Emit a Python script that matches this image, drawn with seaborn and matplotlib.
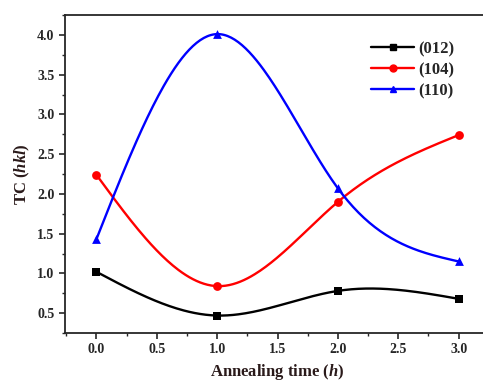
import numpy as np
import pandas as pd
import seaborn as sns
import matplotlib.pyplot as plt
from matplotlib.ticker import MultipleLocator

sns.set_style("ticks")
plt.rcParams['font.family'] = ['Liberation Serif', 'DejaVu Serif']
plt.rcParams['font.weight'] = 'bold'
plt.rcParams['mathtext.fontset'] = 'custom'
plt.rcParams['mathtext.it'] = 'Liberation Serif:italic:bold'
plt.rcParams['mathtext.rm'] = 'Liberation Serif:bold'

# data
time_h = [0.0, 1.0, 2.0, 3.0]
tc_012 = [1.02, 0.47, 0.78, 0.68]
tc_104 = [2.24, 0.84, 1.90, 2.74]
tc_110 = [1.43, 4.01, 2.07, 1.15]

series = {"(012)": tc_012, "(104)": tc_104, "(110)": tc_110}
colors = {"(012)": "black", "(104)": "red", "(110)": "blue"}
markers = {"(012)": "s", "(104)": "o", "(110)": "^"}


def natural_spline(x, y, n=200):
    # natural cubic spline through the points, for the smooth line only
    x = np.asarray(x, float)
    y = np.asarray(y, float)
    k = len(x)
    h = np.diff(x)
    A = np.zeros((k, k))
    b = np.zeros(k)
    A[0, 0] = A[-1, -1] = 1
    for i in range(1, k - 1):
        A[i, i - 1] = h[i - 1]
        A[i, i] = 2 * (h[i - 1] + h[i])
        A[i, i + 1] = h[i]
        b[i] = 6 * ((y[i + 1] - y[i]) / h[i] - (y[i] - y[i - 1]) / h[i - 1])
    M = np.linalg.solve(A, b)
    xs = np.linspace(x[0], x[-1], n)
    idx = np.clip(np.searchsorted(x, xs) - 1, 0, k - 2)
    x0, x1 = x[idx], x[idx + 1]
    hh = x1 - x0
    t0, t1 = x1 - xs, xs - x0
    ys = (M[idx] * t0**3 + M[idx + 1] * t1**3) / (6 * hh) \
        + (y[idx] / hh - M[idx] * hh / 6) * t0 \
        + (y[idx + 1] / hh - M[idx + 1] * hh / 6) * t1
    return xs, ys


fig = plt.figure(figsize=(4.83, 3.85), dpi=100)
ax = fig.add_axes([0.1346, 0.135, 0.88, 0.826])

for name, vals in series.items():
    xs, ys = natural_spline(time_h, vals)
    smooth = pd.DataFrame({"x": xs, "y": ys})
    pts = pd.DataFrame({"x": time_h, "y": vals})
    sns.lineplot(data=smooth, x="x", y="y", color=colors[name], lw=1.7, ax=ax)
    sns.scatterplot(data=pts, x="x", y="y", color=colors[name], marker=markers[name],
                    s=40, edgecolor=colors[name], linewidth=0, ax=ax, zorder=3)
    ax.plot([], [], color=colors[name], marker=markers[name], ms=5, lw=1.7, label=name)

ax.set_xlim(-0.26, 3.26)
ax.set_ylim(0.25, 4.25)
ax.xaxis.set_major_locator(MultipleLocator(0.5))
ax.xaxis.set_minor_locator(MultipleLocator(0.25))
ax.yaxis.set_major_locator(MultipleLocator(0.5))
ax.yaxis.set_minor_locator(MultipleLocator(0.25))
ax.xaxis.set_major_formatter(plt.FormatStrFormatter('%.1f'))
ax.yaxis.set_major_formatter(plt.FormatStrFormatter('%.1f'))
ax.tick_params(which='major', direction='out', length=4, width=1.2, labelsize=10)
ax.tick_params(which='minor', direction='out', length=2.5, width=1.0)
for sp in ax.spines.values():
    sp.set_linewidth(1.3)

lab_color = '#2a1a1a'
ax.set_xlabel("Annealing time ($\\mathit{h}$)", fontsize=12, fontweight='bold', color=lab_color)
ax.set_ylabel("TC ($\\mathit{hkl}$)", fontsize=12, fontweight='bold', color=lab_color)

leg = ax.legend(loc='upper left', bbox_to_anchor=(0.685, 0.965), frameon=False,
                fontsize=12, handlelength=2.6, handletextpad=0.2, labelspacing=0.3)

fig.savefig('out.png', dpi=100)
